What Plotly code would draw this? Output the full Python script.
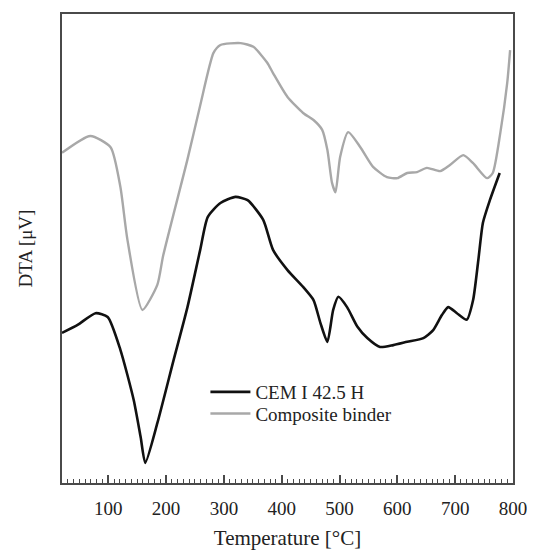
import plotly.graph_objects as go

# Composite binder (grey curve)
comp_T = [20, 69, 104, 121, 133, 159, 185, 195, 237, 259, 282, 294, 329, 351, 375,
          385, 410, 437, 455, 470, 479, 487, 493, 501, 515, 536, 558, 582, 600, 617, 634,
          651, 674, 691, 714, 731, 755, 765, 778, 790, 795]
comp_V = [70.4, 74.0, 71.6, 63.1, 52.0, 36.9, 42.3, 48.5, 69.0, 80.5, 91.7, 93.4, 93.8, 93.0, 89.6,
          87.4, 82.3, 78.9, 77.4, 75.3, 71.0, 64.0, 62.0, 69.5, 74.8, 71.6, 67.4, 65.2, 65.0, 66.1, 66.3,
          67.2, 66.5, 67.8, 69.9, 68.2, 65.0, 66.1, 74.6, 85.3, 92.3]

# CEM I 42.5 H (black curve)
cem_T = [20, 47, 78, 99, 121, 144, 156, 164, 185, 213, 237, 259, 272, 294, 320, 341, 368,
         385, 410, 437, 455, 467, 479, 489, 498, 513, 531, 548, 570, 593, 617, 645, 662,
         677, 688, 703, 720, 731, 740, 748, 760, 777]
cem_V = [32.0, 33.7, 36.2, 35.4, 28.4, 17.7, 9.8, 4.3, 12.8, 26.2, 37.5, 49.7, 56.7, 59.7, 61.0, 60.3, 56.1,
         49.7, 45.4, 41.8, 39.0, 34.1, 30.1, 36.9, 39.7, 37.5, 33.3, 30.9, 29.0, 29.4, 30.1, 30.9, 32.6,
         35.8, 37.5, 36.2, 34.8, 39.0, 47.5, 55.5, 60.3, 66.1]

x_tickvals = [100, 200, 300, 400, 500, 600, 700, 800]
x_ticktext = ["100", "200", "300", "400", "500", "600", "700", "800"]

FONT = "Liberation Serif, Times New Roman, serif"
AX = "#4a4a4a"

fig = go.Figure()
fig.add_trace(go.Scatter(x=cem_T, y=cem_V, mode="lines", name="CEM I 42.5 H",
                         line=dict(color="#111111", width=2.6, shape="spline", smoothing=0.6),
                         legend="legend"))
fig.add_trace(go.Scatter(x=comp_T, y=comp_V, mode="lines", name="Composite binder",
                         line=dict(color="#a8a8a8", width=2.4, shape="spline", smoothing=0.6),
                         legend="legend2"))

leg_common = dict(bgcolor="rgba(0,0,0,0)", borderwidth=0, xanchor="left", yanchor="middle",
                  font=dict(family=FONT, size=19, color="#222222"), itemwidth=40)
fig.update_layout(
    width=527, height=542,
    margin=dict(l=54, r=22, t=6, b=67),
    paper_bgcolor="white", plot_bgcolor="white",
    font=dict(family=FONT, size=19, color="#222222"),
    showlegend=True,
    legend=dict(x=0.318, y=0.194, **leg_common),
    legend2=dict(x=0.318, y=0.148, **leg_common),
    xaxis=dict(range=[20, 800], tickvals=x_tickvals, ticktext=x_ticktext, automargin=False,
               ticks="inside", ticklen=8, tickwidth=1.5, tickcolor=AX, ticklabelstandoff=7,
               minor=dict(dtick=10, tick0=0, ticks="inside", ticklen=4, tickwidth=1, tickcolor=AX),
               showline=True, mirror=True, linecolor=AX, linewidth=2,
               showgrid=False, zeroline=False,
               tickfont=dict(family=FONT, size=19, color="#222222"),
               title=dict(text="Temperature [°C]", font=dict(family=FONT, size=21, color="#222222"),
                          standoff=14)),
    yaxis=dict(range=[0, 100], showticklabels=False, ticks="", automargin=False,
               showline=True, mirror=True, linecolor=AX, linewidth=2,
               showgrid=False, zeroline=False,
               title=dict(text="DTA [μV]", font=dict(family=FONT, size=19, color="#222222"),
                          standoff=22)),
)

fig.write_html("out.html")
